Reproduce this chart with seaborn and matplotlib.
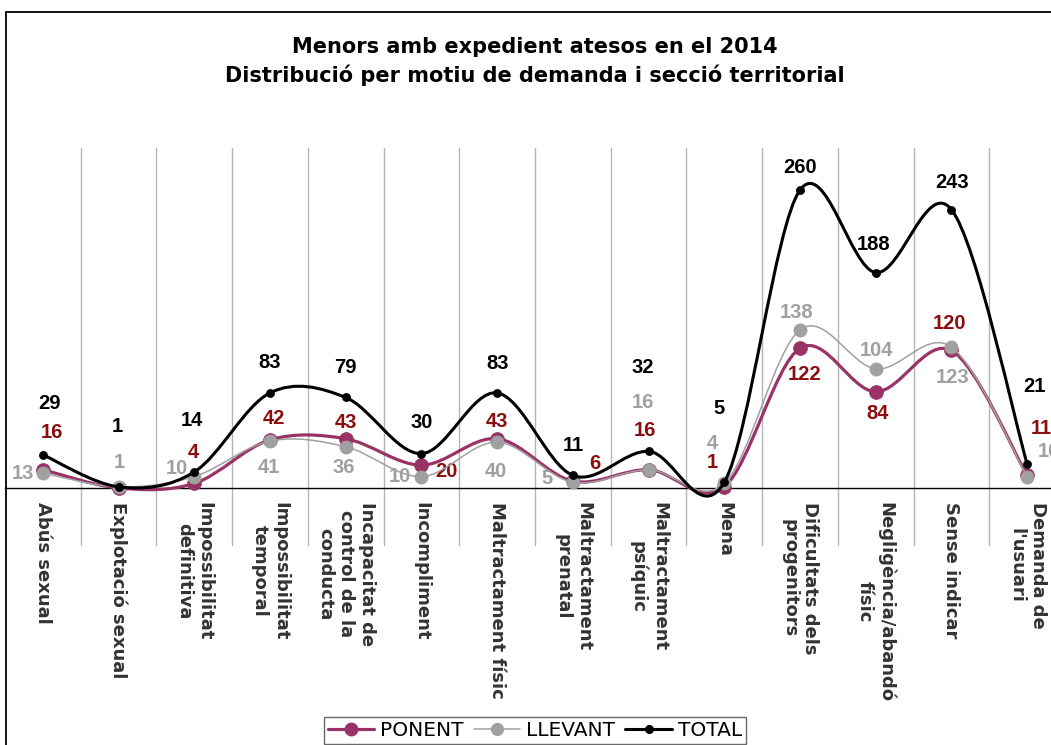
import numpy as np
import pandas as pd
import matplotlib
matplotlib.use("Agg")
import matplotlib.pyplot as plt
import matplotlib.transforms as mtransforms
from matplotlib.path import Path
from matplotlib.patches import PathPatch
from matplotlib.lines import Line2D
import seaborn as sns

# Data
categories = [
    "Abús sexual", "Explotació sexual", "Impossibilitat\ndefinitiva",
    "Impossibilitat\ntemporal", "Incapacitat de\ncontrol de la\nconducta",
    "Incompliment", "Maltractament físic", "Maltractament\nprenatal",
    "Maltractament\npsíquic", "Mena", "Dificultats dels\nprogenitors",
    "Negligència/abandó\nfísic", "Sense indicar", "Demanda de\nl'usuari",
]
ponent = [16, 0, 4, 42, 43, 20, 43, 6, 16, 1, 122, 84, 120, 11]
llevant = [13, 1, 10, 41, 36, 10, 40, 5, 16, 4, 138, 104, 123, 10]
total = [29, 1, 14, 83, 79, 30, 83, 11, 32, 5, 260, 188, 243, 21]

# label offsets in pixels (dx, dy up) relative to each point
ponent_off = [(9, 37), None, (-1, 31), (4, 21), (0, 16), (25, -6), (0, 17),
              (22, 18), (-4, 39), (-12, 24), (5, -26), (2, -22), (-2, 27), (14, 47)]
llevant_off = [(-20, 0), (1, 24), (-17, 8), (-1, -26), (-2, -21), (-22, 0), (-1, -29),
               (-26, 4), (-6, 67), (-12, 40), (-3, 17), (1, 18), (1, -30), (22, 25)]
total_off = [(7, 51), (-1, 60), (-2, 51), (0, 30), (0, 30), (0, 31), (0, 29),
             (0, 30), (-6, 84), (-5, 74), (0, 23), (-2, 28), (1, 27), (7, 77)]

df = pd.DataFrame({"x": np.arange(len(categories)), "PONENT": ponent,
                   "LLEVANT": llevant, "TOTAL": total})

sns.set_style("white")
plt.rcParams["font.family"] = ["DejaVu Sans"]
plt.rcParams["text.color"] = "#000000"

W, H = 1051, 745
fig = plt.figure(figsize=(W / 100, H / 100), dpi=100)
ax = fig.add_axes([5 / W, 1 - 488 / H, 1060 / W, 340 / H])


def smooth_path(xs, ys):
    pts = np.column_stack([xs, ys]).astype(float)
    n = len(pts)
    verts = [pts[0]]
    codes = [Path.MOVETO]
    for i in range(n - 1):
        p0 = pts[i - 1] if i > 0 else pts[i]
        p1, p2 = pts[i], pts[i + 1]
        p3 = pts[i + 2] if i + 2 < n else pts[i + 1]
        verts += [p1 + (p2 - p0) / 6, p2 - (p3 - p1) / 6, p2]
        codes += [Path.CURVE4] * 3
    return Path(verts, codes)


series = [
    ("PONENT", "#993366", 2.3, 100, "#993366", "#8b0d0d", ponent_off, 3),
    ("LLEVANT", "#a0a0a0", 1.1, 90, "#a0a0a0", "#a0a0a0", llevant_off, 4),
    ("TOTAL", "#000000", 2.2, 34, "#000000", "#000000", total_off, 5),
]

for name, col, lw, ms, mcol, tcol, offs, z in series:
    path = smooth_path(df["x"], df[name])
    ax.add_patch(PathPatch(path, fill=False, edgecolor=col, lw=lw, zorder=z,
                           clip_on=False, capstyle="round", joinstyle="round"))
    sns.scatterplot(data=df, x="x", y=name, ax=ax, s=ms, color=mcol,
                    edgecolor=mcol, linewidth=0.5, zorder=z + 0.1,
                    clip_on=False, legend=False)
    for xi, v, off in zip(df["x"], df[name], offs):
        if off is None:
            continue
        ax.annotate(str(v), (xi, v), xytext=(off[0] * 0.72, off[1] * 0.72),
                    textcoords="offset points", ha="center", va="center",
                    fontsize=14.5, fontweight="bold", color=tcol,
                    family="Liberation Sans", zorder=2)

ax.set_xlim(-0.5, len(categories) - 0.5)
ax.set_ylim(0, 296.7)
ax.set_yticks([])
ax.set_xlabel("")
ax.set_ylabel("")
for s in ["top", "left", "right"]:
    ax.spines[s].set_visible(False)
ax.spines["bottom"].set_color("#000000")
ax.spines["bottom"].set_linewidth(1.0)

# category separators (grid + extension below the axis)
trans = mtransforms.blended_transform_factory(ax.transData, ax.transAxes)
for b in np.arange(0.5, len(categories) - 0.5, 1.0):
    ax.plot([b, b], [-57 / 340, 1], color="#b4b4b4", lw=1.0,
            transform=trans, clip_on=False, zorder=0)

ax.set_xticks(np.arange(len(categories)))
ax.set_xticklabels(categories, rotation=270, ha="center", va="top",
                   multialignment="center", fontsize=13, fontweight="bold",
                   color="#333333")
ax.tick_params(axis="x", which="major", length=0, pad=10)
ax.set_xticks(np.arange(0.5, len(categories) - 0.5, 1.0), minor=True)
ax.tick_params(axis="x", which="minor", length=4, width=1, color="#000000",
               direction="out")

# chart border
fig.add_artist(Line2D([6 / W, 6 / W], [0, 1 - 12 / H], color="#000000", lw=1.3))
fig.add_artist(Line2D([6 / W, 1], [1 - 12 / H, 1 - 12 / H], color="#000000", lw=1.3))

fig.text(535 / W, 1 - 47 / H, "Menors amb expedient atesos en el 2014",
         ha="center", va="center", fontsize=15, fontweight="bold", color="#000000")
fig.text(535 / W, 1 - 75 / H, "Distribució per motiu de demanda i secció territorial",
         ha="center", va="center", fontsize=15, fontweight="bold", color="#000000")

handles = [
    Line2D([], [], color="#993366", lw=2.3, marker="o", markersize=9),
    Line2D([], [], color="#a0a0a0", lw=1.1, marker="o", markersize=8.5),
    Line2D([], [], color="#000000", lw=2.2, marker="o", markersize=5.5),
]
leg = fig.legend(handles, ["PONENT", "LLEVANT", "TOTAL"], loc="upper center",
                 bbox_to_anchor=(535 / W, 1 - 717 / H), ncol=3, frameon=True,
                 fancybox=False, edgecolor="#444444", fontsize=14.5,
                 handlelength=2.3, handletextpad=0.3, columnspacing=0.5,
                 borderaxespad=0, borderpad=0.2, labelcolor="#000000")
leg.get_frame().set_linewidth(1.0)

fig.savefig("out.png", dpi=100)
